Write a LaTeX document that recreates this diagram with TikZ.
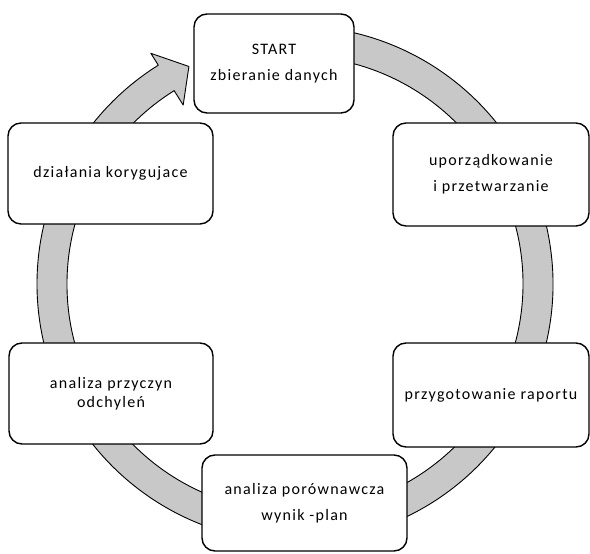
\documentclass[tikz,border=0pt]{standalone}
\usepackage{fontspec}
\setmainfont[LetterSpace=8]{Carlito}
\usetikzlibrary{calc}
\definecolor{bandgray}{RGB}{200,200,200}
\begin{document}
\begin{tikzpicture}[x=1pt,y=1pt,
  box/.style={draw=black, line width=1.4pt, fill=white, rounded corners=13pt,
    align=center, inner sep=0pt, font=\fontsize{16}{26}\selectfont},
  band/.style={fill=bandgray, draw=black, line width=0.9pt, line join=round}]
\useasboundingbox (0,0) rectangle (590,554);
\coordinate (c) at (295,270);
\path[band] ($(c)+(100:258)$) arc[start angle=100, end angle=-238, radius=258]
  -- ($(c)+(122:272)$) -- ($(c)+(116:242)$) -- ($(c)+(122:211)$)
  -- ($(c)+(122:228)$) arc[start angle=-238, end angle=100, radius=228] -- cycle;
\node[box, minimum width=160pt, minimum height=99pt] (start) at (274,490.5) {START\\zbieranie danych};
\node[box, minimum width=196pt, minimum height=103pt] (upo) at (491,379.5) {uporządkowanie\\i przetwarzanie};
\node[box, minimum width=196pt, minimum height=104pt] (przyg) at (491,159) {przygotowanie raportu};
\node[box, minimum width=205pt, minimum height=96pt] (por) at (304.5,51) {analiza porównawcza\\wynik -plan};
\node[box, minimum width=204pt, minimum height=101pt, font=\fontsize{16}{19}\selectfont] (przycz) at (111,160.5) {analiza przyczyn\\odchyleń};
\node[box, minimum width=205pt, minimum height=101pt] (dzial) at (110.5,380.5) {działania korygujace};
\end{tikzpicture}
\end{document}
